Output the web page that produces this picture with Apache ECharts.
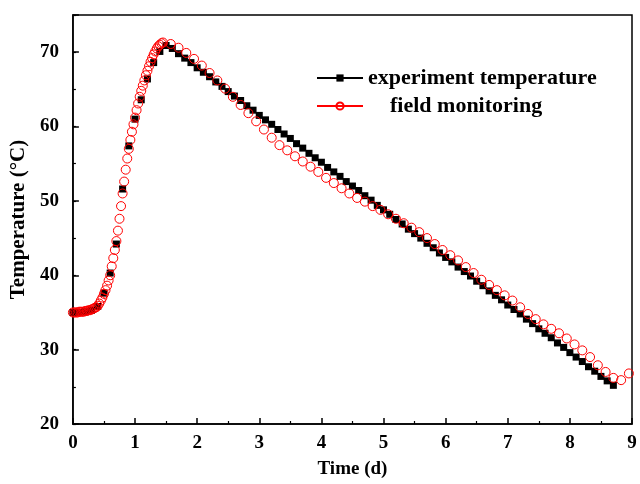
<!DOCTYPE html>
<html><head><meta charset="utf-8">
<script src="https://cdn.jsdelivr.net/npm/echarts/dist/echarts.min.js"></script>
<style>html,body{margin:0;padding:0;background:#fff}#c{width:640px;height:484px}</style>
</head><body><div id="c"></div>
<script>
const seriesNames = ['experiment temperature', 'field monitoring'];
const xTitle = 'Time (d)';
const yTitle = 'Temperature (\u00B0C)';

const expTime = [0,0.1,0.2,0.3,0.4,0.5,0.6,0.7,0.8,0.9,1.0,1.1,1.2,1.3,1.4,1.5,
  1.6,1.7,1.8,1.9,2.0,2.1,2.2,2.3,2.4,2.5,2.6,2.7,2.8,2.9,3.0,3.1,3.2,3.3,3.4,3.5,3.6,3.7,3.8,3.9,
  4.0,4.1,4.2,4.3,4.4,4.5,4.6,4.7,4.8,4.9,5.0,5.1,5.2,5.3,5.4,5.5,5.6,5.7,5.8,5.9,
  6.0,6.1,6.2,6.3,6.4,6.5,6.6,6.7,6.8,6.9,7.0,7.1,7.2,7.3,7.4,7.5,7.6,7.7,7.8,7.9,
  8.0,8.1,8.2,8.3,8.4,8.5,8.6,8.7];
const expTemp = [35.0,35.0,35.1,35.3,35.8,37.6,40.3,44.2,51.6,57.4,61.0,63.6,66.4,68.6,70.1,70.9,
  70.5,69.8,69.2,68.6,67.9,67.3,66.7,66.0,65.4,64.7,64.1,63.5,62.8,62.2,61.5,60.9,60.3,59.6,59.0,58.4,57.7,57.1,56.4,55.8,
  55.2,54.5,53.9,53.3,52.6,52.0,51.4,50.7,50.1,49.4,48.8,48.2,47.5,46.9,46.2,45.6,45.0,44.3,43.7,43.0,
  42.4,41.8,41.1,40.5,39.9,39.2,38.6,37.9,37.3,36.7,36.0,35.4,34.8,34.1,33.5,32.8,32.2,31.6,30.9,30.3,
  29.6,29.0,28.4,27.7,27.1,26.4,25.8,25.2];

const fieldTime = [0,0.025,0.05,0.075,0.1,0.125,0.15,0.175,0.2,0.225,0.25,0.275,0.3,0.325,0.35,0.375,
  0.4,0.425,0.45,0.475,0.5,0.525,0.55,0.575,0.6,0.625,0.65,0.675,0.7,0.725,0.75,0.775,
  0.8,0.825,0.85,0.875,0.9,0.925,0.95,0.975,1.0,1.025,1.05,1.075,1.1,1.125,1.15,1.175,
  1.2,1.225,1.25,1.275,1.3,1.325,1.35,1.375,1.4,1.425,1.45,
  1.575,1.7,1.825,1.95,2.075,2.2,2.325,2.45,2.575,2.7,2.825,2.95,3.075,3.2,3.325,3.45,3.575,3.7,3.825,3.95,
  4.075,4.2,4.325,4.45,4.575,4.7,4.825,4.95,5.075,5.2,5.325,5.45,5.575,5.7,5.825,5.95,
  6.075,6.2,6.325,6.45,6.575,6.7,6.825,6.95,7.075,7.2,7.325,7.45,7.575,7.7,7.825,7.95,
  8.075,8.2,8.325,8.45,8.575,8.7,8.825,8.95];
const fieldTemp = [35.0,35.0,35.0,35.0,35.1,35.1,35.1,35.1,35.2,35.2,35.3,35.3,35.4,35.5,35.6,35.7,
  35.9,36.2,36.6,37.0,37.5,38.0,38.6,39.3,40.0,41.2,42.3,43.4,44.6,46.0,47.6,49.3,
  51.0,52.6,54.2,55.7,57.0,58.2,59.3,60.3,61.2,62.2,63.1,64.0,64.8,65.5,66.2,66.9,
  67.5,68.1,68.7,69.2,69.7,70.1,70.5,70.8,71.0,71.2,71.3,
  71.1,70.6,69.9,69.1,68.2,67.2,66.2,65.1,64.0,62.9,61.8,60.7,59.6,58.5,57.5,56.8,56.0,55.3,54.6,53.9,
  53.1,52.4,51.7,51.0,50.4,49.9,49.3,48.8,48.2,47.6,47.0,46.4,45.8,45.0,44.2,43.4,
  42.7,42.0,41.1,40.3,39.4,38.7,38.0,37.3,36.6,35.7,34.8,34.1,33.4,32.8,32.2,31.5,
  30.7,29.9,29.0,27.9,27.0,26.2,25.9,26.8];

const xMin = 0, xMax = 9, xStep = 1;
const yMin = 20, yMax = 75, yStep = 10, yMinorStep = 5;

const font = 'Liberation Serif, Times New Roman, serif';
const chart = echarts.init(document.getElementById('c'), null, {renderer: 'canvas'});
const axisLineStyle = {color: '#000', width: 1.5};
chart.setOption({
  backgroundColor: '#fff',
  animation: false,
  grid: {left: 72, right: 8, top: 15, bottom: 58, show: true, borderColor: '#000', borderWidth: 1.5, backgroundColor: 'transparent'},
  legend: {
    orient: 'vertical', left: 311, top: 62, itemWidth: 46, itemHeight: 9, itemGap: 6,
    lineStyle: {width: 2},
    textStyle: {fontFamily: font, fontWeight: 'bold', fontSize: 22, color: '#000'},
    formatter: n => n === seriesNames[1] ? '    ' + n : n,
    data: seriesNames
  },
  xAxis: {
    type: 'value', min: xMin, max: xMax, interval: xStep,
    name: xTitle, nameLocation: 'middle', nameGap: 36,
    nameTextStyle: {fontFamily: font, fontWeight: 'bold', fontSize: 19, color: '#000'},
    axisLine: {show: true, lineStyle: axisLineStyle},
    axisTick: {show: true, inside: true, length: 6, lineStyle: axisLineStyle},
    minorTick: {show: true, splitNumber: 2, length: 3, lineStyle: {color: '#000', width: 1.2}},
    splitLine: {show: false},
    axisLabel: {margin: 10, fontFamily: font, fontWeight: 'bold', fontSize: 19, color: '#000'}
  },
  yAxis: [{
    type: 'value', min: yMin, max: yMax, interval: yStep, position: 'left',
    name: yTitle, nameLocation: 'middle', nameGap: 43,
    nameTextStyle: {fontFamily: font, fontWeight: 'bold', fontSize: 21, color: '#000'},
    axisLine: {show: true, lineStyle: axisLineStyle},
    axisTick: {show: true, inside: true, length: 6, lineStyle: axisLineStyle},
    splitLine: {show: false},
    axisLabel: {margin: 14, fontFamily: font, fontWeight: 'bold', fontSize: 19, color: '#000',
      formatter: v => (v % yStep === 0 ? String(v) : '')}
  }, {
    type: 'value', min: yMin, max: yMax, interval: yMinorStep, position: 'left', offset: 0,
    axisLine: {show: false},
    axisTick: {show: true, inside: true, length: 3, lineStyle: {color: '#000', width: 1.2}},
    splitLine: {show: false},
    axisLabel: {show: false}
  }],
  series: [{
    name: seriesNames[0], type: 'line', yAxisIndex: 0,
    data: expTime.map((t, i) => [t, expTemp[i]]),
    symbol: 'rect', symbolSize: 7, showAllSymbol: true,
    lineStyle: {color: '#000', width: 0},
    itemStyle: {color: '#000'},
    z: 2
  }, {
    name: seriesNames[1], type: 'line', yAxisIndex: 0,
    data: fieldTime.map((t, i) => [t, fieldTemp[i]]),
    symbol: 'circle', symbolSize: 9, showAllSymbol: true,
    lineStyle: {color: '#ff0000', width: 0},
    itemStyle: {color: 'rgba(255,255,255,0)', borderColor: '#ff0000', borderWidth: 1},
    z: 3
  }]
});
</script></body></html>
